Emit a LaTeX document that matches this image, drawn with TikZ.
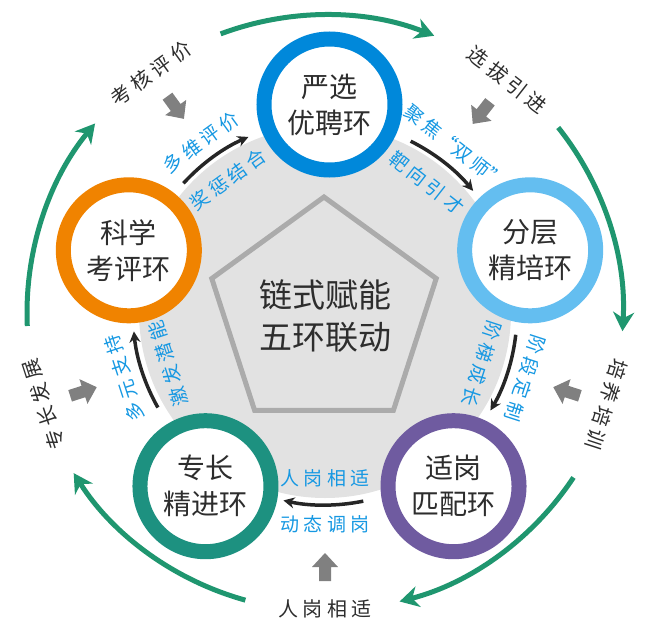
\documentclass[tikz,border=0pt]{standalone}
\usepackage{fontspec}
\setmainfont{Noto Sans CJK SC}
\usetikzlibrary{arrows.meta,positioning}
\definecolor{ringblue}{RGB}{0,136,218}
\definecolor{ringsky}{RGB}{100,190,240}
\definecolor{ringorange}{RGB}{240,131,0}
\definecolor{ringteal}{RGB}{29,145,128}
\definecolor{ringpurple}{RGB}{111,91,160}
\definecolor{cyclegreen}{RGB}{31,150,111}
\definecolor{labelblue}{RGB}{22,152,226}
\definecolor{diskgray}{RGB}{226,226,226}
\definecolor{darktext}{RGB}{45,45,45}
\tikzset{
  ring/.style={circle, draw=#1, line width=15pt, fill=white, minimum size=131pt,
    inner sep=0pt, align=center, text=darktext, font=\fontsize{28}{36}\selectfont},
  motto/.style={align=center, text=darktext, font=\fontsize{33}{42}\selectfont},
  flowlabel/.style={text=labelblue, inner sep=0pt, font=\fontsize{19}{22}\selectfont},
  rimlabel/.style={text=darktext, inner sep=0pt, font=\fontsize{20}{24}\selectfont},
  flowarrow/.style={line width=3.5pt, black!85, -{Stealth[length=11pt,width=11pt]}},
  cyclearrow/.style={line width=5pt, cyclegreen, -{Stealth[length=19pt,width=21pt,inset=6pt]}},
  blockarrow/.style={fill=black!50},
  pentagon/.style={draw=black!33, line width=5pt, line join=miter}
}

\begin{document}
\begin{tikzpicture}
  \useasboundingbox (-325pt,-325pt) rectangle (325pt,313pt);

  \fill[diskgray] (0pt,1pt) circle[radius=186pt];
  \draw[pentagon, shift={(-1pt,-2pt)}] (90:118pt) -- (162:118pt) -- (234:118pt) -- (306:118pt) -- (18:118pt) -- cycle;
  \node[motto] (center) at (0pt,-3pt) {链式赋能\\五环联动};

  % the five rings
  \begin{scope}[shift={(4.5pt,-2.5pt)}]
    \foreach \name/\a/\col/\txt in {yanxuan/90/ringblue/严选\\优聘环, fenceng/18/ringsky/分层\\精培环,
        shigang/-54/ringpurple/适岗\\匹配环, zhuanchang/234/ringteal/专长\\精进环, kexue/162/ringorange/科学\\考评环}
      \node[ring=\col] (\name) at (\a:211pt) {\txt};
  \end{scope}

  % labels and arrows between the rings
  \foreach \m/\rot/\outer/\inner/\rim [count=\i] in {126/36/多 维 评 价/奖 惩 结 合/考 核 评 价,
      52/-38/聚 焦“双 师”/靶 向 引 才/选 拔 引 进, -18/-108/阶 段 定 制/阶 梯 成 长/培 养 培 训,
      -90/0/动 态 调 岗/人 岗 相 适/人 岗 相 适, 198/108/多 元 支 持/激 发 潜 能/专 长 发 展} {
    \coordinate (flow\i) at ({\m+11.5}:192pt);
    \draw[flowarrow] (flow\i) arc[start angle=\m+11.5, end angle=\m-12.5, radius=192pt];
    \node[flowlabel, rotate=\rot] (outer\i) at (\m:211pt) {\outer};
    \node[flowlabel, rotate=\rot] (inner\i) at (\m:165pt) {\inner};
    \node[rimlabel, rotate=\rot] (rim\i) at (\m:296pt) {\rim};
    \fill[blockarrow, shift={(\m:254pt)}, rotate=\m+180]
      (-14pt,-6pt) -- (0pt,-6pt) -- (0pt,-13pt) -- (14pt,0pt) -- (0pt,13pt) -- (0pt,6pt) -- (-14pt,6pt) -- cycle;
  }

  % outer cycle
  \foreach \c [count=\i] in {90,18,-54,234,162} {
    \coordinate (cycle\i) at ({\c+20.5}:298pt);
    \draw[cyclearrow] (cycle\i) arc[start angle=\c+20.5, end angle=\c-21.5, radius=298pt];
  }
\end{tikzpicture}
\end{document}
